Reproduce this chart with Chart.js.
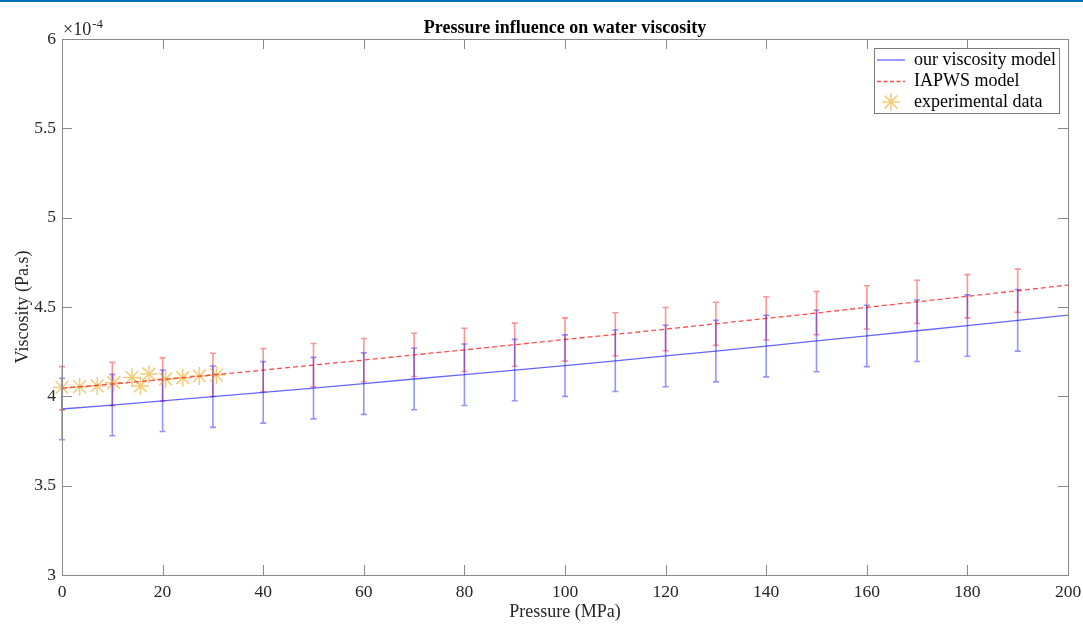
<!DOCTYPE html>
<html><head><meta charset="utf-8">
<script src="https://cdn.jsdelivr.net/npm/chart.js@4/dist/chart.umd.min.js"></script>
<style>html,body{margin:0;padding:0;background:#fff;}#wrap{width:1083px;height:624px;position:relative;}canvas{display:block;}</style>
</head><body><div id="wrap"><canvas id="c" width="1083" height="624"></canvas></div>
<script>
// Pressure (MPa) grid for the model curves
const pressureGrid = [0,10,20,30,40,50,60,70,80,90,100,110,120,130,140,150,160,170,180,190,200];
// Viscosity in units of 1e-4 Pa.s
const ourModel   = [3.929,3.951,3.975,3.998,4.022,4.046,4.071,4.097,4.121,4.147,4.172,4.199,4.226,4.253,4.281,4.310,4.338,4.367,4.396,4.425,4.455];
const iapwsModel = [4.045,4.069,4.094,4.120,4.147,4.175,4.203,4.232,4.260,4.289,4.318,4.347,4.376,4.406,4.436,4.466,4.498,4.529,4.560,4.591,4.623];
// Error bars (drawn at these pressures)
const errPressure = [0,10,20,30,40,50,60,70,80,90,100,110,120,130,140,150,160,170,180,190];
const ourErr   = [0.172,0.172,0.172,0.172,0.172,0.172,0.172,0.172,0.172,0.172,0.172,0.172,0.172,0.172,0.172,0.172,0.172,0.172,0.172,0.172];
const iapwsErr = [0.121,0.121,0.121,0.121,0.121,0.121,0.121,0.121,0.121,0.121,0.121,0.121,0.121,0.121,0.121,0.121,0.121,0.121,0.121,0.121];
// Experimental data
const expPressure  = [0,3.5,7.0,10.3,13.9,15.6,17.3,20.6,24.0,27.3,30.7];
const expViscosity = [4.050,4.054,4.058,4.076,4.106,4.058,4.125,4.097,4.104,4.114,4.119];
// Tick labels
const xTicks = [0,20,40,60,80,100,120,140,160,180,200];
const yTicks = [3,3.5,4,4.5,5,5.5,6];
const labels = ['our viscosity model','IAPWS model','experimental data'];

const FONT = '"Liberation Serif","Times New Roman",serif';
const BLUE_LINE = 'rgba(0,0,255,0.6)';
const RED_LINE = 'rgba(255,0,0,0.7)';
const STAR = 'rgba(237,170,32,0.6)';
const AXIS = '#8a8a8a';

function drawStar(ctx, x, y, r, color, lw){
  ctx.save(); ctx.strokeStyle=color; ctx.lineWidth=lw; ctx.beginPath();
  const d = r*Math.SQRT1_2;
  ctx.moveTo(x-r,y); ctx.lineTo(x+r,y); ctx.moveTo(x,y-r); ctx.lineTo(x,y+r);
  ctx.moveTo(x-d,y-d); ctx.lineTo(x+d,y+d); ctx.moveTo(x-d,y+d); ctx.lineTo(x+d,y-d);
  ctx.stroke(); ctx.restore();
}

function drawErr(chart, model, errs, color){
  const ctx = chart.ctx, xs = chart.scales.x, ys = chart.scales.y;
  ctx.save(); ctx.strokeStyle = color; ctx.lineWidth = 1.6;
  errPressure.forEach((p,i)=>{
    const c = model[pressureGrid.indexOf(p)];
    const px = xs.getPixelForValue(p);
    const t = ys.getPixelForValue(c+errs[i]), b = ys.getPixelForValue(c-errs[i]);
    ctx.beginPath(); ctx.moveTo(px,t); ctx.lineTo(px,b);
    ctx.moveTo(px-3,t); ctx.lineTo(px+3,t); ctx.moveTo(px-3,b); ctx.lineTo(px+3,b);
    ctx.stroke();
  });
  ctx.restore();
}

const decor = {
  id:'decor',
  beforeDraw(chart){
    const ctx = chart.ctx; ctx.save();
    ctx.fillStyle='#fff'; ctx.fillRect(0,0,chart.width,chart.height);
    ctx.fillStyle='#0072BD'; ctx.fillRect(0,0,chart.width,2);
    ctx.restore();
  },
  beforeDatasetsDraw(chart){
    drawErr(chart, iapwsModel, iapwsErr, 'rgba(255,0,0,0.42)');
    drawErr(chart, ourModel, ourErr, 'rgba(0,0,255,0.42)');
  },
  afterDraw(chart){
    const ctx = chart.ctx, a = chart.chartArea, xs = chart.scales.x, ys = chart.scales.y;
    ctx.save();
    // box
    ctx.strokeStyle = AXIS; ctx.lineWidth = 1;
    ctx.strokeRect(Math.round(a.left)+0.5, Math.round(a.top)+0.5, Math.round(a.right-a.left), Math.round(a.bottom-a.top));
    // inward ticks
    ctx.beginPath();
    xTicks.forEach(v=>{ const px = Math.round(xs.getPixelForValue(v))+0.5;
      ctx.moveTo(px,a.bottom); ctx.lineTo(px,a.bottom-10); ctx.moveTo(px,a.top); ctx.lineTo(px,a.top+10); });
    yTicks.forEach(v=>{ const py = Math.round(ys.getPixelForValue(v))+0.5;
      ctx.moveTo(a.left,py); ctx.lineTo(a.left+10,py); ctx.moveTo(a.right,py); ctx.lineTo(a.right-10,py); });
    ctx.stroke();
    // title
    ctx.fillStyle = '#000'; ctx.font = 'bold 18px '+FONT; ctx.textAlign='center'; ctx.textBaseline='alphabetic';
    ctx.fillText('Pressure influence on water viscosity', (a.left+a.right)/2, 33);
    // exponent
    ctx.fillStyle = '#262626'; ctx.textAlign='left';
    ctx.font = '18px '+FONT; ctx.fillText('\u00d710', a.left+1, 35);
    const w = ctx.measureText('\u00d710').width;
    ctx.font = '13px '+FONT; ctx.fillText('-4', a.left+1+w+1, 28);
    // legend
    const lx = a.right-194, ly = a.top+9, lw = 185, lh = 65;
    ctx.fillStyle='#fff'; ctx.fillRect(lx,ly,lw,lh);
    ctx.strokeStyle='#7a7a7a'; ctx.lineWidth=1; ctx.strokeRect(lx+0.5,ly+0.5,lw,lh);
    const rows = [ly+12, ly+33.5, ly+54];
    ctx.lineWidth=1.3;
    ctx.strokeStyle=BLUE_LINE; ctx.beginPath(); ctx.moveTo(lx+3,rows[0]); ctx.lineTo(lx+31,rows[0]); ctx.stroke();
    ctx.strokeStyle=RED_LINE; ctx.setLineDash([4,2.5]); ctx.beginPath(); ctx.moveTo(lx+3,rows[1]); ctx.lineTo(lx+31,rows[1]); ctx.stroke();
    ctx.setLineDash([]);
    drawStar(ctx, lx+17, rows[2], 9, STAR, 1.5);
    ctx.fillStyle='#000'; ctx.font='18px '+FONT; ctx.textBaseline='middle'; ctx.textAlign='left';
    labels.forEach((t,i)=>ctx.fillText(t, lx+40, rows[i]));
    ctx.restore();
  }
};

new Chart(document.getElementById('c'), {
  type:'line',
  data:{ datasets:[
    { label:labels[0], data: pressureGrid.map((p,i)=>({x:p,y:ourModel[i]})), borderColor:BLUE_LINE, borderWidth:1.3, pointRadius:0, tension:0, fill:false },
    { label:labels[1], data: pressureGrid.map((p,i)=>({x:p,y:iapwsModel[i]})), borderColor:RED_LINE, borderWidth:1.3, borderDash:[5,3], pointRadius:0, tension:0, fill:false },
    { label:labels[2], data: expPressure.map((p,i)=>({x:p,y:expViscosity[i]})), showLine:false, pointStyle:'star', pointRadius:9, pointBorderColor:STAR, pointBorderWidth:1.5, pointBackgroundColor:'rgba(0,0,0,0)', clip:false }
  ]},
  options:{
    responsive:false, animation:false, devicePixelRatio:1,
    layout:{ padding:{ top:39, right:15, left:0, bottom:0 } },
    plugins:{ legend:{display:false}, tooltip:{enabled:false}, title:{display:false} },
    scales:{
      x:{ type:'linear', min:0, max:200,
        afterBuildTicks:s=>{ s.ticks = xTicks.map(v=>({value:v})); },
        afterFit:s=>{ s.height = 49; s.paddingLeft = 0; s.paddingRight = 0; },
        grid:{ display:true, drawOnChartArea:false, drawTicks:false, color:'rgba(0,0,0,0)' }, border:{ display:false },
        ticks:{ padding:7, color:'#262626', font:{ family:FONT, size:17.5 }, maxRotation:0, autoSkip:false, callback:v=>String(v) },
        title:{ display:true, text:'Pressure (MPa)', color:'#262626', font:{ family:FONT, size:18 }, padding:{top:0,bottom:1} }
      },
      y:{ type:'linear', min:3, max:6,
        afterBuildTicks:s=>{ s.ticks = yTicks.map(v=>({value:v})); },
        afterFit:s=>{ s.width = 62; s.paddingTop = 0; s.paddingBottom = 0; },
        grid:{ display:true, drawOnChartArea:false, drawTicks:false, color:'rgba(0,0,0,0)' }, border:{ display:false },
        ticks:{ padding:6, color:'#262626', font:{ family:FONT, size:17.5 }, autoSkip:false, callback:v=>String(v) },
        title:{ display:true, text:'Viscosity (Pa.s)', color:'#262626', font:{ family:FONT, size:18 }, padding:{top:12,bottom:0} }
      }
    }
  },
  plugins:[decor]
});
</script></body></html>
